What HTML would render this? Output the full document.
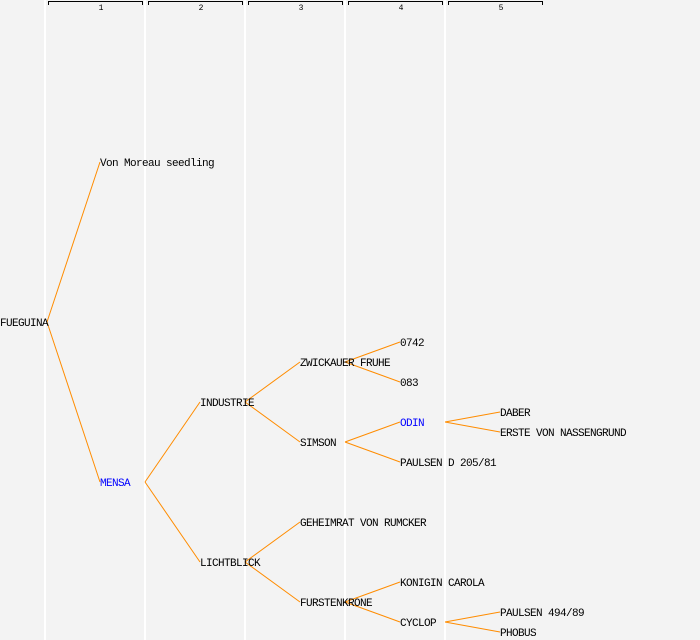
<!DOCTYPE html>
<html><head><meta charset="utf-8"><style>
html,body{margin:0;padding:0;background:#f3f3f3;}
svg{display:block;}
text{font-family:"Liberation Mono","DejaVu Sans Mono",monospace;font-size:11px;letter-spacing:-0.6px;}
</style></head><body>
<svg width="700" height="640" xmlns="http://www.w3.org/2000/svg">
<rect width="700" height="640" fill="#f3f3f3"/>
<g fill="#ffffff">
<rect x="44" y="0" width="2" height="640"/>
<rect x="144" y="0" width="2" height="640"/>
<rect x="244" y="0" width="2" height="640"/>
<rect x="344" y="0" width="2" height="640"/>
<rect x="444" y="0" width="2" height="640"/>
</g>
<g stroke="#000" fill="none" stroke-width="1">
<path d="M48.5 5V1.5H142.5V5"/>
<path d="M148.5 5V1.5H242.5V5"/>
<path d="M248.5 5V1.5H342.5V5"/>
<path d="M348.5 5V1.5H442.5V5"/>
<path d="M448.5 5V1.5H542.5V5"/>
</g>
<g text-anchor="middle">
<text x="101" y="10" style="font-size:8px;letter-spacing:0">1</text><text x="201" y="10" style="font-size:8px;letter-spacing:0">2</text><text x="301" y="10" style="font-size:8px;letter-spacing:0">3</text><text x="401" y="10" style="font-size:8px;letter-spacing:0">4</text><text x="501" y="10" style="font-size:8px;letter-spacing:0">5</text>
</g>
<g stroke="#ff8c00" stroke-width="1" fill="none">
<path d="M47 322L100 162M47 322L100 482"/>
<path d="M145 482L200 402M145 482L200 562"/>
<path d="M245 402L300 362M245 402L300 442"/>
<path d="M345 362L400 342M345 362L400 382"/>
<path d="M345 442L400 422M345 442L400 462"/>
<path d="M445 422L500 412M445 422L500 432"/>
<path d="M245 562L300 522M245 562L300 602"/>
<path d="M345 602L400 582M345 602L400 622"/>
<path d="M445 622L500 612M445 622L500 632"/>
</g>
<g fill="#000">
<text x="0" y="326">FUEGUINA</text>
<text x="100" y="166">Von Moreau seedling</text>
<text x="100" y="486" fill="#0000ff">MENSA</text>
<text x="200" y="406">INDUSTRIE</text>
<text x="200" y="566">LICHTBLICK</text>
<text x="300" y="366">ZWICKAUER FRUHE</text>
<text x="300" y="446">SIMSON</text>
<text x="300" y="526">GEHEIMRAT VON RUMCKER</text>
<text x="300" y="606">FURSTENKRONE</text>
<text x="400" y="346">0742</text>
<text x="400" y="386">083</text>
<text x="400" y="426" fill="#0000ff">ODIN</text>
<text x="400" y="466">PAULSEN D 205/81</text>
<text x="400" y="586">KONIGIN CAROLA</text>
<text x="400" y="626">CYCLOP</text>
<text x="500" y="416">DABER</text>
<text x="500" y="436">ERSTE VON NASSENGRUND</text>
<text x="500" y="616">PAULSEN 494/89</text>
<text x="500" y="636">PHOBUS</text>
</g>
</svg>
</body></html>
